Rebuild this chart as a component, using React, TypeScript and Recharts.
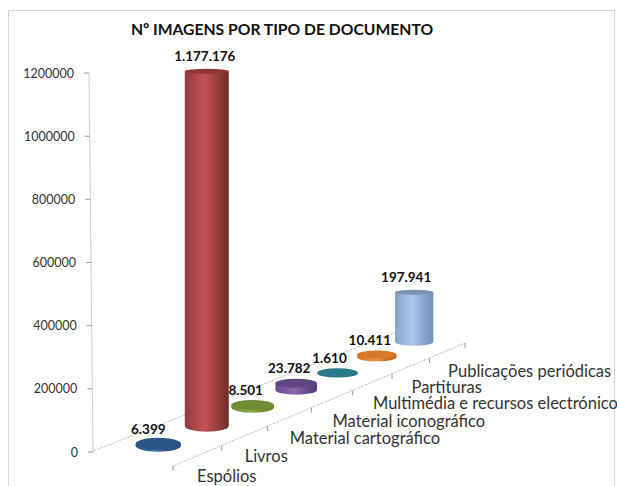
import React from "react";
import { BarChart, Bar, XAxis, YAxis, LabelList } from "recharts";

const categories = [
  "Espólios",
  "Livros",
  "Material cartográfico",
  "Material iconográfico",
  "Multimédia e recursos electrónicos",
  "Partituras",
  "Publicações periódicas",
];
const images = [6399, 1177176, 8501, 23782, 1610, 10411, 197941];
const valueTicks = [0, 200000, 400000, 600000, 800000, 1000000, 1200000];

// [edge, highlight, far edge, cap]
const cylinderColors = [
  ["#2c5585", "#3a6ca6", "#234a75", "#2b5686"],
  ["#913b3b", "#c45454", "#6d2a2a", "#8e3636"],
  ["#6b8a30", "#8fae45", "#5f7d2b", "#6f8e33"],
  ["#66498c", "#8a68ad", "#4f3870", "#5f4683"],
  ["#23707f", "#318a9c", "#1f6372", "#2a7888"],
  ["#c9701f", "#ee9344", "#b5641c", "#d67a28"],
  ["#88a3cb", "#b0c7ea", "#7590b8", "#7b90b2"],
];
const labelNudge = [-10, -2, -7, -7, -8, -7, -8];

const rows = categories.map((name, i) => ({ name, value: images[i] }));

const WIDTH = 617;
const HEIGHT = 486;
const PLOT_LEFT = 93;
const PLOT_TOP = 73;
const PLOT_WIDTH = 350;
const PLOT_HEIGHT = 379;
const FONT = "Lato, sans-serif";

// fake 3D: maps a 0..1 position along the category axis onto the floor
function project(t: number) {
  const p = (t * 1.2) / (1 + 0.2 * t);
  const s = 1 - 0.18 * p;
  return { p, s, fx: 173 + 292 * p, fy: 466 - 123 * p };
}

function axisX(y: number) {
  return 89 + (4 * (y - PLOT_TOP)) / PLOT_HEIGHT;
}

function cylinderBox(props: any) {
  const t = (props.x + props.width / 2 - PLOT_LEFT) / PLOT_WIDTH;
  const { p, s, fx, fy } = project(t);
  const cx = fx - 40 * s;
  const base = fy - 10 * s;
  const h = props.height * (1.01 - 0.225 * p);
  const rx = (props.width * s) / 2;
  const ry = 6.2 - 2.6 * p;
  const topRy = Math.max(2.5, ry - h * 0.04);
  return { cx, base, h, rx, ry, topRy };
}

function Cylinder(props: any) {
  const { cx, base, h, rx, ry, topRy } = cylinderBox(props);
  const top = base - h;
  const side = `M${cx - rx},${top} L${cx - rx},${base} A${rx},${ry} 0 0 0 ${cx + rx},${base} L${cx + rx},${top} Z`;
  return (
    <g>
      <path d={side} fill={`url(#cyl${props.index})`} />
      <ellipse cx={cx} cy={top} rx={rx} ry={topRy} fill={cylinderColors[props.index][3]} />
    </g>
  );
}

function ValueLabel(props: any) {
  const { cx, base, h } = cylinderBox(props);
  const text = String(props.value).replace(/\B(?=(\d{3})+(?!\d))/g, ".");
  return (
    <text
      x={cx + labelNudge[props.index]}
      y={base - h - 10}
      textAnchor="middle"
      fontFamily={FONT}
      fontSize={13.5}
      fontWeight={700}
      fill="#111"
    >
      {text}
    </text>
  );
}

function ValueTick({ y, payload }: any) {
  const ax = axisX(y);
  return (
    <g>
      <line x1={ax - 5} y1={y} x2={ax} y2={y} stroke="#9a9a9a" />
      <text
        x={ax - 15}
        y={y}
        textAnchor="end"
        dominantBaseline="central"
        fontFamily={FONT}
        fontSize={12.5}
        fill="#333"
      >
        {payload.value}
      </text>
    </g>
  );
}

function CategoryTick({ index, payload }: any) {
  const { p, fx, fy } = project(index / categories.length);
  return (
    <g>
      <line x1={fx} y1={fy} x2={fx} y2={fy + 5} stroke="#9a9a9a" />
      <text
        x={fx + 24 - 6 * p}
        y={fy + 9.5 + 3.5 * Math.min(1, p * 2.2)}
        dominantBaseline="central"
        fontFamily={FONT}
        fontSize={16.5}
        fill="#333"
      >
        {payload.value}
      </text>
    </g>
  );
}

function Backdrop() {
  const a = project(0);
  const b = project(1);
  return (
    <g>
      <rect x={8.5} y={10.5} width={606} height={500} fill="none" stroke="#aaa" strokeDasharray="1 1" />
      <text
        x={282}
        y={29}
        textAnchor="middle"
        dominantBaseline="central"
        fontFamily={FONT}
        fontSize={15.7}
        fontWeight={700}
        fill="#111"
      >
        Nº IMAGENS POR TIPO DE DOCUMENTO
      </text>
      <line x1={axisX(PLOT_TOP)} y1={PLOT_TOP} x2={axisX(452)} y2={452} stroke="#cfcfcf" />
      <line x1={a.fx - 80 * a.s} y1={a.fy - 15 * a.s} x2={b.fx - 80 * b.s} y2={b.fy - 15 * b.s} stroke="#c4c4c4" strokeDasharray="3 1" />
      <line x1={a.fx} y1={a.fy} x2={b.fx} y2={b.fy} stroke="#c4c4c4" strokeDasharray="3 1" />
      <line x1={b.fx} y1={b.fy} x2={b.fx} y2={b.fy + 5} stroke="#9a9a9a" />
    </g>
  );
}

export default function App() {
  return (
    <div style={{ position: "absolute", left: 0, top: 0, width: WIDTH, height: HEIGHT, overflow: "hidden", background: "#fff" }}>
      <BarChart
        width={WIDTH}
        height={HEIGHT}
        data={rows}
        barSize={46}
        margin={{ top: PLOT_TOP, left: 13, right: WIDTH - PLOT_LEFT - PLOT_WIDTH, bottom: 4 }}
      >
        <defs>
          {cylinderColors.map((c, i) => (
            <linearGradient key={i} id={`cyl${i}`} x1="0" y1="0" x2="1" y2="0">
              <stop offset="0%" stopColor={c[0]} />
              <stop offset="45%" stopColor={c[1]} />
              <stop offset="78%" stopColor={c[0]} />
              <stop offset="100%" stopColor={c[2]} />
            </linearGradient>
          ))}
        </defs>
        <Backdrop />
        <XAxis dataKey="name" height={30} interval={0} axisLine={false} tickLine={false} tick={<CategoryTick />} />
        <YAxis
          width={80}
          domain={[0, 1200000]}
          ticks={valueTicks}
          axisLine={false}
          tickLine={false}
          tick={<ValueTick />}
        />
        <Bar dataKey="value" isAnimationActive={false} shape={<Cylinder />}>
          <LabelList dataKey="value" content={<ValueLabel />} />
        </Bar>
      </BarChart>
    </div>
  );
}
